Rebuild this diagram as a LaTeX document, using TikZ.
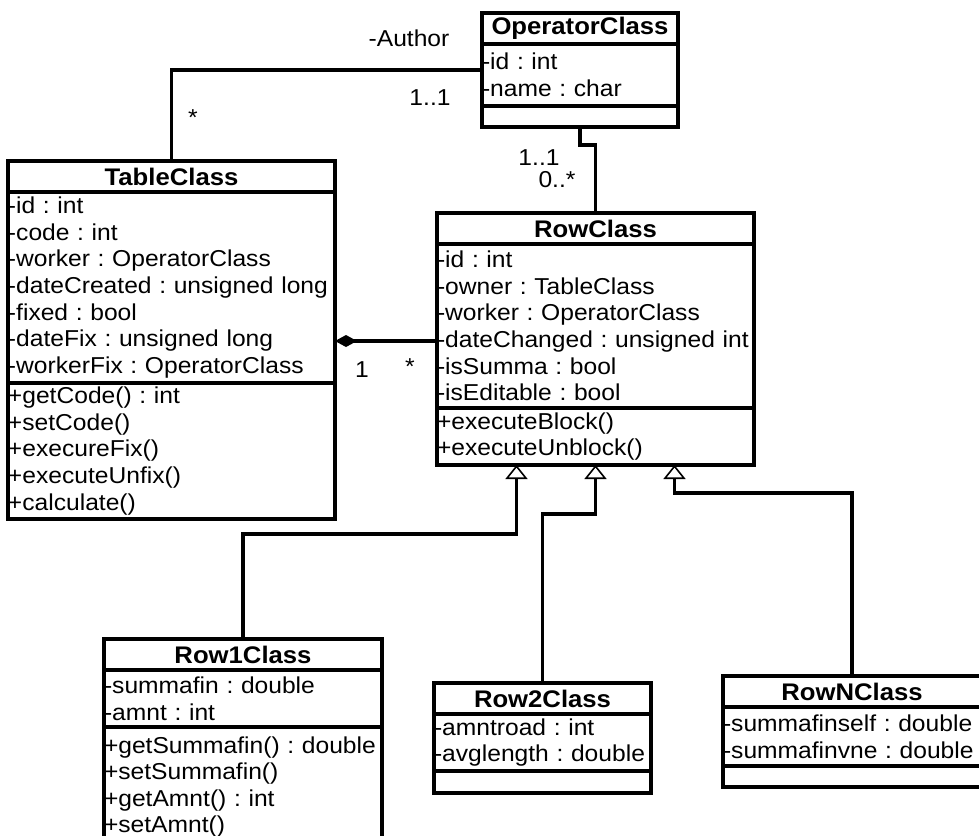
\documentclass[tikz,border=0pt]{standalone}
\usepackage{fontspec}
\setmainfont{Liberation Sans}[FakeStretch=1.07]
\frenchspacing
\usetikzlibrary{positioning,arrows.meta}

\begin{document}
\begin{tikzpicture}[
x=0.5pt, y=-0.5pt,
every node/.style={outer sep=0pt},
classpart/.style 2 args={draw, line width=1.6pt, inner sep=0pt, text width=#1, minimum height=#2, align=left, font=\fontsize{11.5}{13.3}\selectfont},
classname/.style={classpart={#1}{15.5pt}, align=center, font=\fontsize{12}{14}\selectfont\bfseries},
mult/.style={inner sep=0pt, font=\fontsize{11.5}{13.3}\selectfont},
assoc/.style={line width=1.6pt},
compose/.style={line width=1.6pt, -{Diamond[length=11pt,width=6pt]}},
inherit/.style={line width=1.6pt, -{Triangle[open,fill=white,length=7pt,width=11pt,line width=0.8pt]}}
]
\useasboundingbox (0,0) rectangle (979,835);

\node[classname=98pt, anchor=north west] (opTitle) at (482,13) {OperatorClass};
\node[classpart={98pt}{31pt}, below=0pt of opTitle] (opAttr) {-id : int\\-name : char};
\node[classpart={98pt}{10.5pt}, below=0pt of opAttr] (opOps) {};

\node[classname=163.5pt, anchor=north west] (tabTitle) at (8,161) {TableClass};
\node[classpart={163.5pt}{95.5pt}, below=0pt of tabTitle] (tabAttr) {-id : int\\-code : int\\-worker : OperatorClass\\-dateCreated : unsigned long\\-fixed : bool\\-dateFix : unsigned long\\-workerFix : OperatorClass};
\node[classpart={163.5pt}{68pt}, below=0pt of tabAttr] (tabOps) {+getCode() : int\\+setCode()\\+execureFix()\\+executeUnfix()\\+calculate()};

\node[classname=158.5pt, anchor=north west] (rowTitle) at (437,213) {RowClass};
\node[classpart={158.5pt}{82pt}, below=0pt of rowTitle] (rowAttr) {-id : int\\-owner : TableClass\\-worker : OperatorClass\\-dateChanged : unsigned int\\-isSumma : bool\\-isEditable : bool};
\node[classpart={158.5pt}{28.5pt}, below=0pt of rowAttr] (rowOps) {+executeBlock()\\+executeUnblock()};

\node[classname=139pt, anchor=north west] (r1Title) at (104,639) {Row1Class};
\node[classpart={139pt}{28.5pt}, below=0pt of r1Title] (r1Attr) {-summafin : double\\-amnt : int};
\node[classpart={139pt}{60pt}, below=0pt of r1Attr] (r1Ops) {+getSummafin() : double\\+setSummafin()\\+getAmnt() : int\\+setAmnt()};

\node[classname=108.5pt, anchor=north west] (r2Title) at (434,683) {Row2Class};
\node[classpart={108.5pt}{28.5pt}, below=0pt of r2Title] (r2Attr) {-amntroad : int\\-avglength : double};
\node[classpart={108.5pt}{11pt}, below=0pt of r2Attr] (r2Ops) {};

\node[classname=129pt, anchor=north west] (rnTitle) at (723,676) {RowNClass};
\node[classpart={129pt}{29.5pt}, below=0pt of rnTitle] (rnAttr) {-summafinself : double\\-summafinvne : double};
\node[classpart={129pt}{10.5pt}, below=0pt of rnAttr] (rnOps) {};

\node[mult] (authorLbl) at (409,38) {-Author};
\node[mult] (opMulA) at (430,98) {1..1};
\node[mult] (tabMulA) at (193,118) {*};
\node[mult] (opMulB) at (539,158) {1..1};
\node[mult] (rowMulB) at (557,180) {0..*};
\node[mult] (tabMulC) at (362,370) {1};
\node[mult] (rowMulC) at (410,367) {*};

\draw[assoc] (tabTitle.north) |- ([yshift=2.5pt]opAttr.west);
\draw[assoc] (opOps.south) -- ++(0,18) -| (rowTitle.north);
\draw[compose] ([yshift=-7.5pt]rowAttr.west) -- ([yshift=-7.5pt]rowAttr.west -| tabAttr.east);
\draw[inherit] (r1Title.north) |- ([xshift=-39.5pt,yshift=-34.5pt]rowOps.south) -- ([xshift=-39.5pt]rowOps.south);
\draw[inherit] (r2Title.north) |- ([yshift=-24.5pt]rowOps.south) -- (rowOps.south);
\draw[inherit] (rnTitle.north) |- ([xshift=39.5pt,yshift=-14pt]rowOps.south) -- ([xshift=39.5pt]rowOps.south);
\end{tikzpicture}
\end{document}
